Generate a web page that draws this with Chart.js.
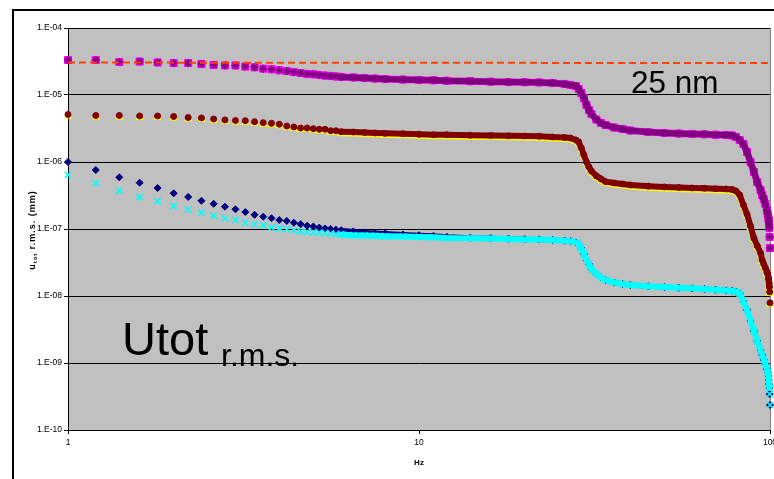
<!DOCTYPE html>
<html>
<head>
<meta charset="utf-8">
<title>Utot r.m.s.</title>
<script src="https://cdn.jsdelivr.net/npm/chart.js@4.4.1/dist/chart.umd.min.js"></script>
<style>
  html, body { margin: 0; padding: 0; background: #fff; overflow: hidden; }
  #wrap { width: 774px; height: 479px; }
</style>
</head>
<body>
<div id="wrap"><canvas id="utotChart" width="774" height="479"></canvas></div>
<script>
// frequency points (Hz), shared by every series
var freqHz = [
    1, 1.2, 1.4, 1.6, 1.8, 2, 2.2, 2.4, 2.6, 2.8,
    3, 3.2, 3.4, 3.6, 3.8, 4, 4.2, 4.4, 4.6, 4.8,
    5, 5.2, 5.4, 5.6, 5.8, 6, 6.5, 7, 7.5, 8,
    9, 10, 11, 12, 14, 16, 18, 20, 22, 24,
    26, 27, 28, 28.5, 29, 29.5, 30, 30.5, 31, 32,
    33, 34, 36, 38, 40, 45, 50, 55, 60, 65,
    70, 75, 78, 80, 82, 84, 86, 88, 90, 92,
    94, 95, 96, 97, 98, 98.5, 99, 99.2, 99.4, 99.6,
    99.8, 100
];

// upper curve (mm) - magenta squares / purple stars
var utotUpper = [
    3.33e-5, 3.33e-5, 3.11e-5, 3.16e-5, 3.06e-5, 3.0e-5, 3.0e-5, 2.90e-5, 2.81e-5, 2.76e-5,
    2.76e-5, 2.66e-5, 2.59e-5, 2.47e-5, 2.42e-5, 2.34e-5, 2.28e-5, 2.20e-5, 2.13e-5, 2.06e-5,
    2.04e-5, 1.99e-5, 1.95e-5, 1.92e-5, 1.89e-5, 1.86e-5, 1.83e-5, 1.79e-5, 1.76e-5, 1.73e-5,
    1.70e-5, 1.67e-5, 1.66e-5, 1.63e-5, 1.61e-5, 1.58e-5, 1.56e-5, 1.55e-5, 1.54e-5, 1.51e-5,
    1.46e-5, 1.41e-5, 1.36e-5, 1.23e-5, 1.07e-5, 9.0e-6, 7.1e-6, 5.97e-6, 5.2e-6, 4.31e-6,
    3.82e-6, 3.57e-6, 3.27e-6, 3.11e-6, 2.95e-6, 2.80e-6, 2.71e-6, 2.66e-6, 2.62e-6, 2.59e-6,
    2.55e-6, 2.53e-6, 2.49e-6, 2.36e-6, 2.13e-6, 1.86e-6, 1.41e-6, 1.0e-6, 7.1e-7, 5.0e-7,
    3.82e-7, 3.21e-7, 2.80e-7, 2.36e-7, 1.92e-7, 1.67e-7, 1.46e-7, 1.32e-7, 1.19e-7, 1.04e-7,
    7.6e-8, 5.2e-8
];

// middle curve (mm) - yellow triangles / dark red circles
var utotMiddle = [
    5.12e-6, 4.94e-6, 4.94e-6, 4.86e-6, 4.86e-6, 4.78e-6, 4.62e-6, 4.54e-6, 4.38e-6, 4.24e-6,
    4.16e-6, 4.13e-6, 3.99e-6, 3.86e-6, 3.78e-6, 3.66e-6, 3.44e-6, 3.33e-6, 3.21e-6, 3.21e-6,
    3.14e-6, 3.08e-6, 3.08e-6, 2.93e-6, 2.93e-6, 2.83e-6, 2.80e-6, 2.75e-6, 2.71e-6, 2.68e-6,
    2.64e-6, 2.60e-6, 2.55e-6, 2.55e-6, 2.51e-6, 2.49e-6, 2.46e-6, 2.44e-6, 2.42e-6, 2.36e-6,
    2.32e-6, 2.28e-6, 2.13e-6, 1.99e-6, 1.62e-6, 1.27e-6, 1.0e-6, 8.4e-7, 7.3e-7, 6.2e-7,
    5.6e-7, 5.1e-7, 4.86e-7, 4.70e-7, 4.54e-7, 4.36e-7, 4.24e-7, 4.16e-7, 4.09e-7, 4.05e-7,
    3.99e-7, 3.95e-7, 3.89e-7, 3.69e-7, 3.21e-7, 2.28e-7, 1.67e-7, 1.11e-7, 7.3e-8, 5.6e-8,
    4.38e-8, 3.44e-8, 3.0e-8, 2.62e-8, 2.28e-8, 2.13e-8, 1.86e-8, 1.73e-8, 1.56e-8, 1.36e-8,
    1.15e-8, 7.9e-9
];

// lower curve (mm) - navy diamonds
var utotLowerA = [
    1.0e-6, 7.6e-7, 5.9e-7, 4.91e-7, 4.09e-7, 3.41e-7, 3.01e-7, 2.64e-7, 2.38e-7, 2.15e-7,
    1.97e-7, 1.79e-7, 1.63e-7, 1.53e-7, 1.45e-7, 1.36e-7, 1.32e-7, 1.24e-7, 1.18e-7, 1.12e-7,
    1.09e-7, 1.05e-7, 1.02e-7, 1.0e-7, 9.8e-8, 9.6e-8, 9.2e-8, 8.9e-8, 8.7e-8, 8.6e-8,
    8.3e-8, 8.1e-8, 7.9e-8, 7.66e-8, 7.4e-8, 7.3e-8, 7.15e-8, 7.05e-8, 7.0e-8, 6.85e-8,
    6.7e-8, 6.6e-8, 6.3e-8, 5.97e-8, 5.2e-8, 4.23e-8, 3.44e-8, 3.0e-8, 2.53e-8, 2.13e-8,
    1.89e-8, 1.73e-8, 1.59e-8, 1.51e-8, 1.46e-8, 1.40e-8, 1.36e-8, 1.33e-8, 1.30e-8, 1.27e-8,
    1.24e-8, 1.21e-8, 1.19e-8, 1.16e-8, 1.09e-8, 8.4e-9, 6.2e-9, 4.24e-9, 3.0e-9, 2.13e-9,
    1.56e-9, 1.32e-9, 1.11e-9, 9.7e-10, 8.1e-10, 7.3e-10, 6.4e-10, 5.6e-10, 4.86e-10, 4.24e-10,
    3.44e-10, 2.36e-10
];

// lower curve (mm) - cyan crosses
var utotLowerB = [
    6.4e-7, 4.81e-7, 3.73e-7, 3.01e-7, 2.59e-7, 2.20e-7, 1.94e-7, 1.76e-7, 1.58e-7, 1.45e-7,
    1.37e-7, 1.24e-7, 1.17e-7, 1.14e-7, 1.05e-7, 1.02e-7, 9.9e-8, 9.6e-8, 9.2e-8, 9.0e-8,
    8.9e-8, 8.8e-8, 8.65e-8, 8.6e-8, 8.4e-8, 8.3e-8, 8.1e-8, 8.0e-8, 7.9e-8, 7.8e-8,
    7.7e-8, 7.6e-8, 7.5e-8, 7.35e-8, 7.3e-8, 7.2e-8, 7.1e-8, 7.0e-8, 6.95e-8, 6.85e-8,
    6.7e-8, 6.6e-8, 6.3e-8, 5.97e-8, 5.2e-8, 4.23e-8, 3.44e-8, 3.0e-8, 2.53e-8, 2.13e-8,
    1.89e-8, 1.73e-8, 1.59e-8, 1.51e-8, 1.46e-8, 1.40e-8, 1.36e-8, 1.33e-8, 1.30e-8, 1.27e-8,
    1.24e-8, 1.21e-8, 1.19e-8, 1.16e-8, 1.09e-8, 8.4e-9, 6.2e-9, 4.24e-9, 3.0e-9, 2.13e-9,
    1.56e-9, 1.32e-9, 1.11e-9, 9.7e-10, 8.1e-10, 7.3e-10, 6.4e-10, 5.6e-10, 4.86e-10, 4.24e-10,
    3.44e-10, 2.36e-10
];

// dashed limit line
var limitHz = [1, 100];
var limitMm = [3.05e-5, 3.0e-5];

var xTicks = [1, 10, 100];
var yTicks = [1e-10, 1e-9, 1e-8, 1e-7, 1e-6, 1e-5, 1e-4];

var FONT = '"Liberation Sans", Arial, sans-serif';
Chart.defaults.font.family = FONT;

function pts(xs, ys) {
    return xs.map(function (x, i) { return { x: x, y: ys[i] }; });
}

// excel style exponent label: 1.E-04
function sciLabel(v) {
    var e = Math.round(Math.log10(v));
    return '1.E' + (e < 0 ? '-' : '+') + String(Math.abs(e)).padStart(2, '0');
}

// the points get so dense above ~6 Hz that they merge into a band
function band(color) {
    return function (c) {
        return (c.p0.parsed.x >= 6 && c.p1.parsed.x <= 99.6) ? color : 'rgba(0,0,0,0)';
    };
}

function series(vals, opts) {
    return Object.assign({
        data: pts(freqHz, vals),
        showLine: true,
        tension: 0,
        clip: false,
        borderJoinStyle: 'round',
        borderCapStyle: 'round',
        pointBorderWidth: 1,
        segment: { borderColor: band(opts.borderColor) }
    }, opts);
}

// nudges a dataset down a little (yellow triangles peek out below the circles)
var shiftPlugin = {
    id: 'shiftY',
    beforeDatasetDraw: function (chart, args) {
        var dy = chart.data.datasets[args.index].shiftY;
        if (dy) { chart.ctx.save(); chart.ctx.translate(0, dy); }
    },
    afterDatasetDraw: function (chart, args) {
        if (chart.data.datasets[args.index].shiftY) chart.ctx.restore();
    }
};

var framePlugin = {
    id: 'frame',
    beforeDraw: function (chart) {
        var ctx = chart.ctx, a = chart.chartArea;
        ctx.save();
        ctx.fillStyle = '#fff';
        ctx.fillRect(0, 0, chart.width, chart.height);
        ctx.fillStyle = '#c0c0c0';
        ctx.fillRect(a.left, a.top, a.right - a.left, a.bottom - a.top);
        ctx.restore();
    },
    beforeDatasetsDraw: function (chart) {
        var ctx = chart.ctx, a = chart.chartArea;
        ctx.save();
        ctx.strokeStyle = '#808080';
        ctx.lineWidth = 1;
        ctx.beginPath();
        ctx.moveTo(a.right + 0.5, a.top);
        ctx.lineTo(a.right + 0.5, a.bottom);
        ctx.stroke();
        ctx.restore();
    },
    afterDraw: function (chart) {
        var ctx = chart.ctx;
        ctx.save();

        // outer chart border
        ctx.strokeStyle = '#000';
        ctx.lineWidth = 2;
        ctx.beginPath();
        ctx.moveTo(13, chart.height);
        ctx.lineTo(13, 10);
        ctx.lineTo(chart.width, 10);
        ctx.stroke();

        ctx.fillStyle = '#000';
        ctx.textBaseline = 'alphabetic';
        ctx.textAlign = 'left';

        ctx.font = '31.5px ' + FONT;
        ctx.fillText('25 nm', 631, 93);

        ctx.font = '47px ' + FONT;
        ctx.fillText('Utot', 122, 355);
        ctx.font = '32px ' + FONT;
        ctx.fillText('r.m.s.', 221, 366);

        // x axis title
        ctx.font = 'bold 8px ' + FONT;
        ctx.textAlign = 'center';
        ctx.textBaseline = 'middle';
        ctx.fillText('Hz', 419, 463);

        // y axis title with subscript, rotated
        var parts = [
            ['u', 'bold 9px ' + FONT, 0],
            ['tot', 'bold 6px ' + FONT, 2],
            [' r.m.s. (mm)', 'bold 9px ' + FONT, 0]
        ];
        ctx.translate(35, 230);
        ctx.rotate(-Math.PI / 2);
        ctx.textAlign = 'left';
        ctx.textBaseline = 'alphabetic';
        ctx.letterSpacing = '1px';
        var total = 0;
        parts.forEach(function (p) { ctx.font = p[1]; total += ctx.measureText(p[0]).width; });
        var x = -total / 2;
        parts.forEach(function (p) {
            ctx.font = p[1];
            ctx.fillText(p[0], x, p[2]);
            x += ctx.measureText(p[0]).width;
        });
        ctx.restore();
    }
};

var ctx = document.getElementById('utotChart').getContext('2d');
var chart = new Chart(ctx, {
    type: 'scatter',
    data: {
        datasets: [
            series(utotLowerA, {
                label: 'navy', pointStyle: 'rectRot', pointRadius: 3.5,
                backgroundColor: '#000080', borderColor: '#000080', borderWidth: 5, order: 7
            }),
            series(utotUpper, {
                label: 'magenta', pointStyle: 'rect', pointRadius: 5,
                backgroundColor: '#ff00ff', borderColor: '#ff00ff', borderWidth: 7, order: 6
            }),
            series(utotMiddle, {
                label: 'yellow', pointStyle: 'triangle', pointRadius: 4,
                backgroundColor: '#ffff00', borderColor: '#ffff00', borderWidth: 6, order: 5,
                shiftY: 1.5
            }),
            series(utotLowerB, {
                label: 'cyan', pointStyle: 'crossRot', pointRadius: 4.5, pointBorderWidth: 1.5,
                backgroundColor: '#00ffff', borderColor: '#00ffff', borderWidth: 6, order: 4
            }),
            series(utotUpper, {
                label: 'purple', pointStyle: 'star', pointRadius: 4, pointBorderWidth: 1.5,
                backgroundColor: '#800080', borderColor: '#800080', borderWidth: 6, order: 3
            }),
            series(utotMiddle, {
                label: 'darkred', pointStyle: 'circle', pointRadius: 3,
                backgroundColor: '#800000', borderColor: '#800000', borderWidth: 6, order: 2
            }),
            {
                label: 'limit',
                data: pts(limitHz, limitMm),
                showLine: true,
                pointRadius: 0,
                borderColor: '#ff4000',
                borderWidth: 2,
                borderDash: [7, 4],
                order: 1
            }
        ]
    },
    options: {
        responsive: false,
        animation: false,
        events: [],
        layout: { autoPadding: false, padding: { left: 0, top: 28, right: 4, bottom: 0 } },
        plugins: {
            legend: { display: false },
            tooltip: { enabled: false }
        },
        scales: {
            x: {
                type: 'logarithmic',
                min: 1,
                max: 100,
                afterBuildTicks: function (s) { s.ticks = xTicks.map(function (v) { return { value: v }; }); },
                afterFit: function (s) {
                    s.height = 49;
                    // let the "100" label run off the right edge
                    s.paddingLeft = 0;
                    s.paddingRight = 0;
                },
                ticks: {
                    color: '#000',
                    font: { size: 8.5 },
                    padding: 4,
                    maxRotation: 0,
                    autoSkip: false,
                    callback: function (v) { return String(v); }
                },
                grid: { drawOnChartArea: false, drawTicks: true, tickLength: 4, color: '#000' },
                border: { color: '#000', width: 1 }
            },
            y: {
                type: 'logarithmic',
                min: 1e-10,
                max: 1e-4,
                afterBuildTicks: function (s) { s.ticks = yTicks.map(function (v) { return { value: v }; }); },
                afterFit: function (s) {
                    s.width = 68;
                    s.paddingTop = 0;
                    s.paddingBottom = 0;
                },
                ticks: {
                    color: '#000',
                    font: { size: 8.5 },
                    padding: 2,
                    autoSkip: false,
                    callback: function (v) { return sciLabel(v); }
                },
                grid: { color: '#000', lineWidth: 1, tickLength: 4 },
                border: { color: '#000', width: 1 }
            }
        }
    },
    plugins: [framePlugin, shiftPlugin]
});
</script>
</body>
</html>
